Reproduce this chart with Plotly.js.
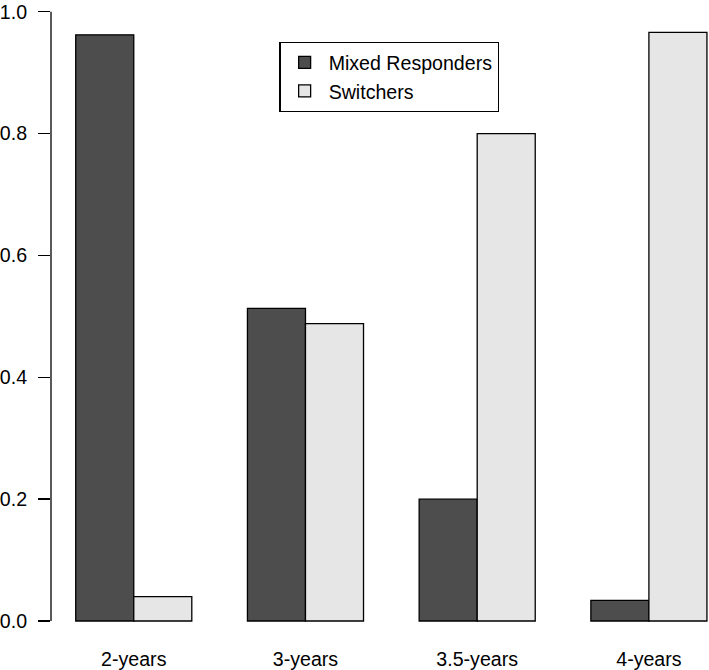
<!DOCTYPE html>
<html>
<head>
<meta charset="utf-8">
<script src="https://cdn.plot.ly/plotly-3.0.1.min.js"></script>
<style>html,body{margin:0;padding:0;background:#fff;}#chart{width:709px;height:670px;}</style>
</head>
<body>
<div id="chart"></div>
<script>
var categories = ["2-years", "3-years", "3.5-years", "4-years"];
var mixedResponders = [0.962, 0.513, 0.200, 0.034];
var switchers = [0.040, 0.488, 0.800, 0.966];
var yTickValues = [0, 0.2, 0.4, 0.6, 0.8, 1.0];
var yTickLabels = ["0.0", "0.2", "0.4", "0.6", "0.8", "1.0"];

var font = {family: "Liberation Sans, Arial, Helvetica, sans-serif", size: 19.6, color: "#000"};

var traces = [
  {type: "bar", name: "Mixed Responders", x: categories, y: mixedResponders,
   marker: {color: "#4d4d4d", line: {color: "#000", width: 1.3}}},
  {type: "bar", name: "Switchers", x: categories, y: switchers,
   marker: {color: "#e6e6e6", line: {color: "#000", width: 1.3}}}
];

var layout = {
  width: 709, height: 670,
  margin: {l: 51, r: 0, t: 0, b: 25, pad: 0},
  paper_bgcolor: "#fff", plot_bgcolor: "#fff",
  font: font,
  barmode: "group", bargap: 0.324, bargroupgap: 0,
  showlegend: true,
  legend: {x: 0.347, y: 0.935, xanchor: "left", yanchor: "top",
           bordercolor: "#000", borderwidth: 1.3, bgcolor: "#fff",
           font: font, tracegroupgap: 0, itemwidth: 38},
  xaxis: {type: "category", range: [-0.482, 3.350], showline: false, ticks: "",
          showgrid: false, zeroline: false, tickfont: font, ticklabelstandoff: 0},
  yaxis: {range: [-0.0394, 1.0192], tickvals: yTickValues, ticktext: yTickLabels,
          ticks: "outside", ticklen: 12, tickwidth: 1.3, tickcolor: "#000",
          showline: false, showgrid: false, zeroline: false, tickfont: font,
          ticklabelstandoff: 7},
  shapes: [{type: "line", xref: "paper", yref: "y", x0: 0, x1: 0, y0: 0, y1: 1,
            line: {color: "#000", width: 1.3}}]
};

Plotly.newPlot("chart", traces, layout, {displayModeBar: false, staticPlot: true});
</script>
</body>
</html>
